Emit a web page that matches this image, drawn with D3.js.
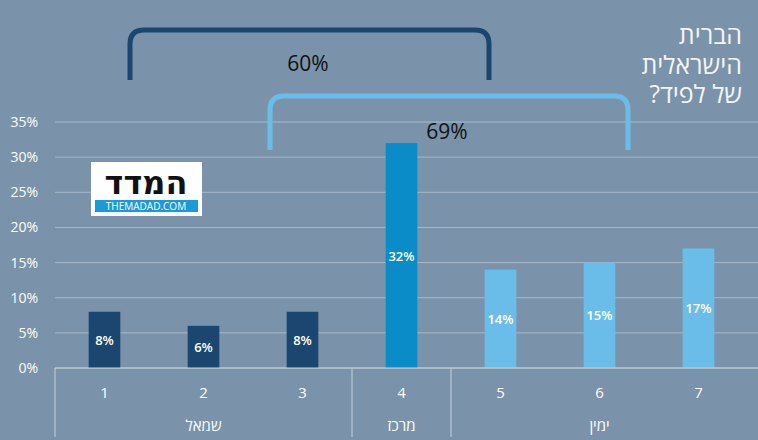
<!DOCTYPE html><html><head><meta charset="utf-8"><script src="https://cdn.jsdelivr.net/npm/d3@7"></script>
<style>body{margin:0;background:#7a93aa}svg{display:block}</style></head><body><svg id="c" width="758" height="440"></svg>
<script>
const categories=["1","2","3","4","5","6","7"];
const values=[8,6,8,32,14,15,17];
const groups=[{name:"שמאל",from:0,to:3},{name:"מרכז",from:3,to:4},{name:"ימין",from:4,to:7}];
const yTicks=[0,5,10,15,20,25,30,35];
const colors=["#1b4670","#1b4670","#1b4670","#0a8cc8","#6bbde9","#6bbde9","#6bbde9"];
const titleLines=["הברית","הישראלית","של לפיד?"];
const svg=d3.select("#c");
const F="'Open Sans',sans-serif";
const x=d3.scaleBand().domain(categories).range([55,748]).paddingInner(0.68).paddingOuter(0.34);
const band=d3.scaleBand().domain(categories).range([55,748]);
const y=d3.scaleLinear().domain([0,35]).range([368,122]);
svg.selectAll(".g").data(yTicks).join("line").attr("x1",55).attr("x2",758).attr("y1",d=>y(d)).attr("y2",d=>y(d)).attr("stroke","#a8b9c9").attr("stroke-width",1);
svg.selectAll(".yl").data(yTicks).join("text").attr("x",38).attr("y",d=>y(d)+5).attr("text-anchor","end").attr("fill","#fff").attr("font-family",F).attr("font-size",14).text(d=>d+"%");
svg.selectAll(".b").data(values).join("rect").attr("x",(d,i)=>x(categories[i])).attr("width",x.bandwidth()).attr("y",d=>y(d)).attr("height",d=>y(0)-y(d)).attr("fill",(d,i)=>colors[i]);
svg.selectAll(".bl").data(values).join("text").attr("x",(d,i)=>x(categories[i])+x.bandwidth()/2).attr("y",d=>(y(d)+y(0))/2+5).attr("text-anchor","middle").attr("fill","#fff").attr("font-family",F).attr("font-weight",600).attr("font-size",13).text(d=>d+"%");
const bx=[55,...groups.slice(0,-1).map(g=>55+g.to*band.step())];
bx.forEach(v=>svg.append("line").attr("x1",v).attr("x2",v).attr("y1",368).attr("y2",437).attr("stroke","#c5d1dc"));
svg.append("line").attr("x1",55).attr("x2",758).attr("y1",368).attr("y2",368).attr("stroke","#c5d1dc");
svg.selectAll(".xl").data(categories).join("text").attr("x",d=>band(d)+band.bandwidth()/2).attr("y",398).attr("text-anchor","middle").attr("fill","#fff").attr("font-family",F).attr("font-size",15).text(d=>d);
svg.selectAll(".gl").data(groups).join("text").attr("x",d=>55+(d.from+d.to)/2*band.step()).attr("y",431).attr("text-anchor","middle").attr("fill","#fff").attr("font-family",F).attr("font-size",15).text(d=>d.name);
function bracket(x1,x2,top,bot,col){const r=14;svg.append("path").attr("d",`M${x1},${bot}V${top+r}Q${x1},${top} ${x1+r},${top}H${x2-r}Q${x2},${top} ${x2},${top+r}V${bot}`).attr("fill","none").attr("stroke",col).attr("stroke-width",5);}
bracket(130,489,30,80,"#1b4670");
bracket(270,628,96,150,"#6bbde9");
svg.append("text").attr("x",308).attr("y",71).attr("text-anchor","middle").attr("font-family",F).attr("font-size",21).attr("fill","#111").text("60%");
svg.append("text").attr("x",447).attr("y",139).attr("text-anchor","middle").attr("font-family",F).attr("font-size",21).attr("fill","#111").text("69%");
titleLines.forEach((t,i)=>svg.append("text").attr("x",742).attr("y",44+i*29.5).attr("text-anchor","start").attr("direction","rtl").attr("fill","#f5f5f5").attr("font-family",F).attr("font-size",25).text(t));
svg.append("rect").attr("x",91).attr("y",162).attr("width",111).attr("height",54).attr("fill","#fff");
svg.append("text").attr("x",146).attr("y",194).attr("text-anchor","middle").attr("font-family","'DejaVu Sans',sans-serif").attr("font-weight","bold").attr("font-size",32).attr("fill","#111").text("המדד");
svg.append("rect").attr("x",95).attr("y",200).attr("width",103).attr("height",12).attr("fill","#1a9ad6");
svg.append("text").attr("x",146).attr("y",210).attr("text-anchor","middle").attr("font-family",F).attr("font-size",10).attr("fill","#fff").text("THEMADAD.COM");
</script></body></html>
